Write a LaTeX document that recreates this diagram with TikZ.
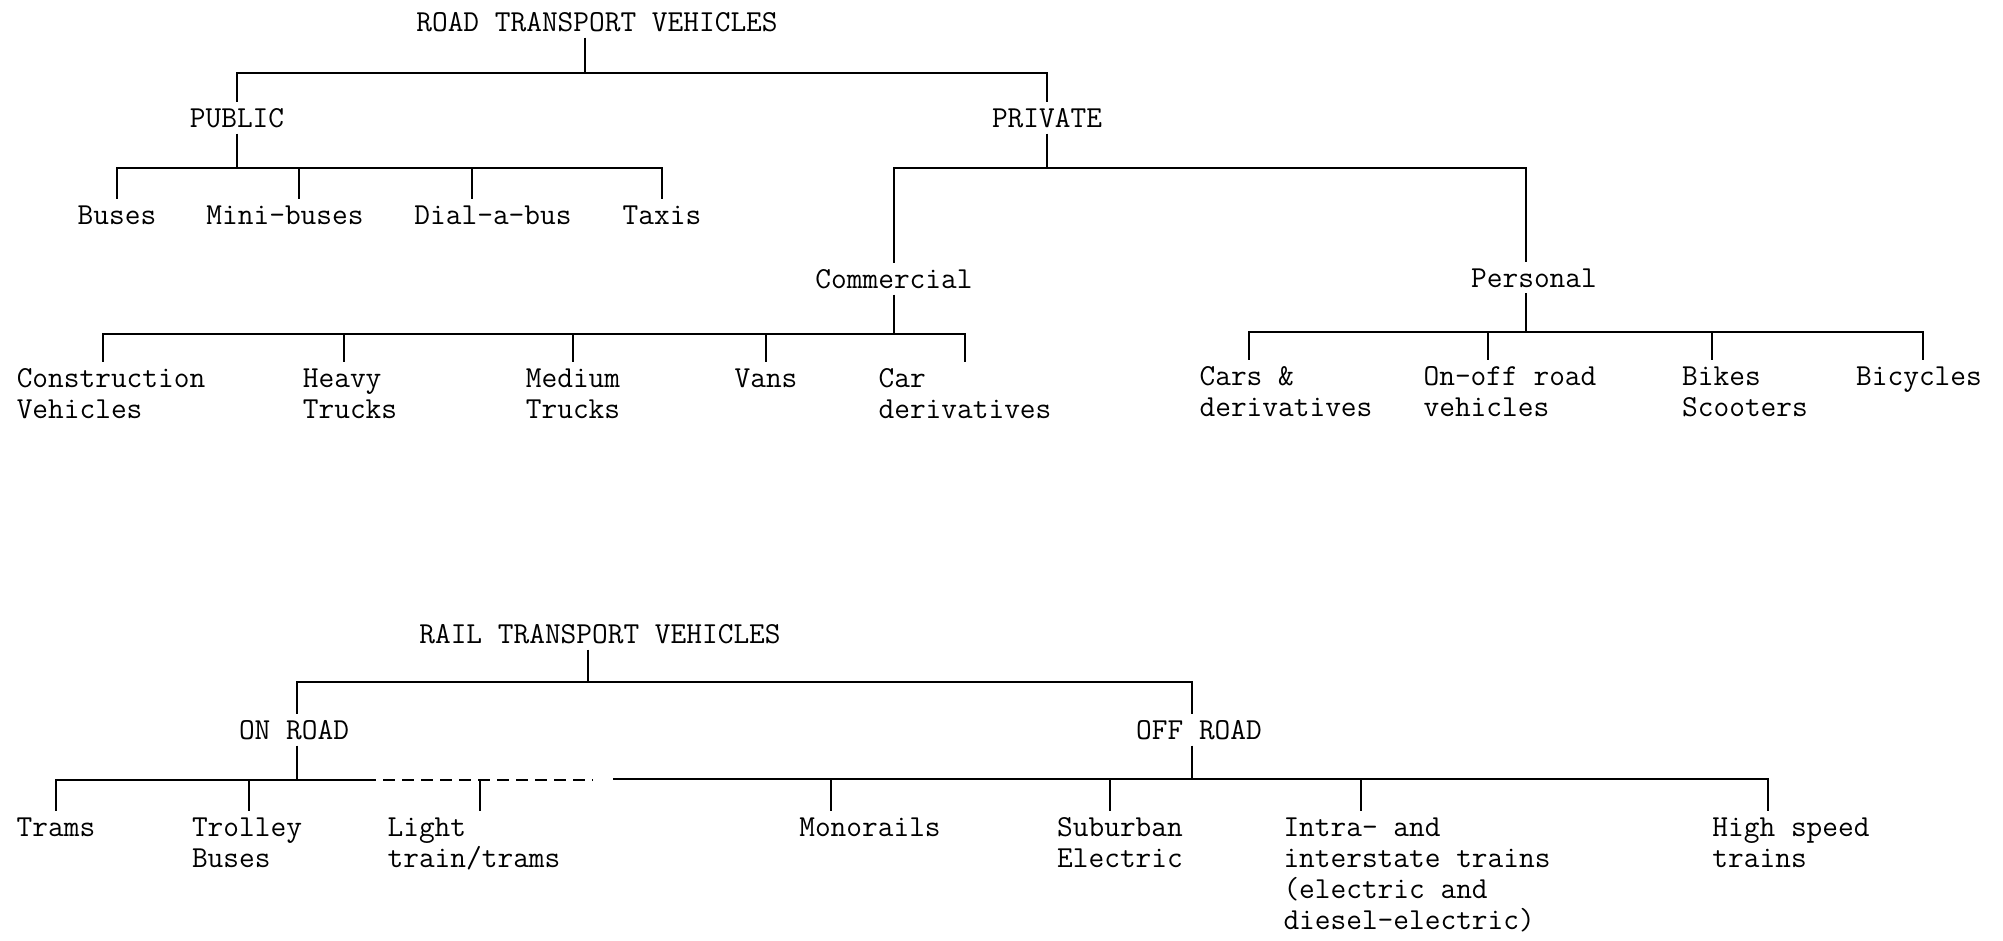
\documentclass[tikz,border=0pt]{standalone}
\usepackage{tikz}
\newcommand{\vehfont}{\fontsize{30.5}{31}\selectfont\ttfamily}
\tikzset{vlabel/.style = {font=\vehfont, inner sep=6pt, anchor=base}}
\tikzset{vgroup/.style = {vlabel, align=left}}
\tikzset{link/.style = {line width=2pt}}
\tikzset{maybe/.style = {line width=2pt, dash pattern=on 12pt off 7pt}}

\begin{document}
\begin{tikzpicture}[x=1pt, y=-1pt]
    \useasboundingbox (0,0) rectangle (2003,940);

    \node [vlabel] (road) at (597,31) {ROAD TRANSPORT VEHICLES};
    \node [vlabel] (public) at (237,127) {PUBLIC};
    \node [vlabel] (private) at (1047,127) {PRIVATE};
    \node [vlabel] (buses) at (117,224) {Buses};
    \node [vlabel] (minibus) at (285,224) {Mini-buses};
    \node [vlabel] (dialbus) at (493,224) {Dial-a-bus};
    \node [vlabel] (taxis) at (662,224) {Taxis};
    \node [vlabel] (commercial) at (894,288) {Commercial};
    \node [vlabel] (personal) at (1534,287) {Personal};
    \node [vgroup] (construct) at (111,418) {Construction\\Vehicles};
    \node [vgroup] (heavy) at (350,418) {Heavy\\Trucks};
    \node [vgroup] (medium) at (573,418) {Medium\\Trucks};
    \node [vlabel] (vans) at (766,387) {Vans};
    \node [vgroup] (carderiv) at (965,418) {Car\\derivatives};
    \node [vgroup] (carsderiv) at (1286,416) {Cars \&\\derivatives};
    \node [vgroup] (onoff) at (1510,416) {On-off road\\vehicles};
    \node [vgroup] (bikes) at (1745,416) {Bikes\\Scooters};
    \node [vlabel] (bicycles) at (1919,385) {Bicycles};

    \draw [link] ([xshift=-12pt]road.south) -- ++(0,35) coordinate (roadbar);
    \draw [link] (roadbar) -| (public.north) (roadbar) -| (private.north);
    \draw [link] (public.south) -- ++(0,34) coordinate (pubbar);
    \draw [link] (pubbar) -| (buses.north) (pubbar) -| ([xshift=14pt]minibus.north);
    \draw [link] (pubbar) -| ([xshift=-21pt]dialbus.north) (pubbar) -| (taxis.north);
    \draw [link] (private.south) -- ++(0,34) coordinate (privbar);
    \draw [link] (privbar) -| (commercial.north) (privbar) -| ([xshift=-8pt]personal.north);
    \draw [link] (commercial.south) -- ++(0,39) coordinate (combar);
    \draw [link] (combar) -| ([xshift=-8pt]construct.north) (combar) -| ([xshift=-6pt]heavy.north);
    \draw [link] (combar) -| (medium.north) (combar) -| (vans.north) (combar) -| (carderiv.north);
    \draw [link] ([xshift=-8pt]personal.south) -- ++(0,39) coordinate (perbar);
    \draw [link] (perbar) -| ([xshift=-37pt]carsderiv.north) (perbar) -| ([xshift=-22pt]onoff.north);
    \draw [link] (perbar) -| ([xshift=-33pt]bikes.north) (perbar) -| ([xshift=4pt]bicycles.north);

    \node [vlabel] (rail) at (600,643) {RAIL TRANSPORT VEHICLES};
    \node [vlabel] (onroad) at (294,739) {ON ROAD};
    \node [vlabel] (offroad) at (1199,739) {OFF ROAD};
    \node [vlabel] (trams) at (56,836) {Trams};
    \node [vgroup] (trolley) at (247,867) {Trolley\\Buses};
    \node [vgroup] (light) at (474,867) {Light\\train/trams};
    \node [vlabel] (mono) at (870,836) {Monorails};
    \node [vgroup] (suburban) at (1120,867) {Suburban\\Electric};
    \node [vgroup] (intra) at (1417,929) {Intra- and\\interstate trains\\(electric and\\diesel-electric)};
    \node [vgroup] (highspeed) at (1791,867) {High speed\\trains};

    \draw [link] ([xshift=-12pt]rail.south) -- ++(0,32) coordinate (railbar);
    \draw [link] (railbar) -| ([xshift=3pt]onroad.north) (railbar) -| ([xshift=-7pt]offroad.north);
    \draw [link] ([xshift=3pt]onroad.south) -- ++(0,34) coordinate (onbar);
    \draw [link] (onbar) -| (trams.north) (onbar) -| ([xshift=2pt]trolley.north);
    \draw [link] (onbar) -- ++(67,0) coordinate (dashstart);
    \path (dashstart) -| coordinate[pos=0.5] (lightbar) ([xshift=6pt]light.north);
    \draw [maybe] (dashstart) -- ++(229,0) coordinate (dashend);
    \draw [link] (lightbar) -- ([xshift=6pt]light.north);
    \draw [link] ([xshift=-7pt]offroad.south) -- ++(0,33) coordinate (offbar);
    \draw [link] (offbar) -- ++(-579,0) coordinate (offend);
    \draw [link] (offbar) -| ([xshift=-39pt]mono.north) (offbar) -| ([xshift=-10pt]suburban.north);
    \draw [link] (offbar) -| ([xshift=-56pt]intra.north) (offbar) -| ([xshift=-23pt]highspeed.north);
\end{tikzpicture}
\end{document}
